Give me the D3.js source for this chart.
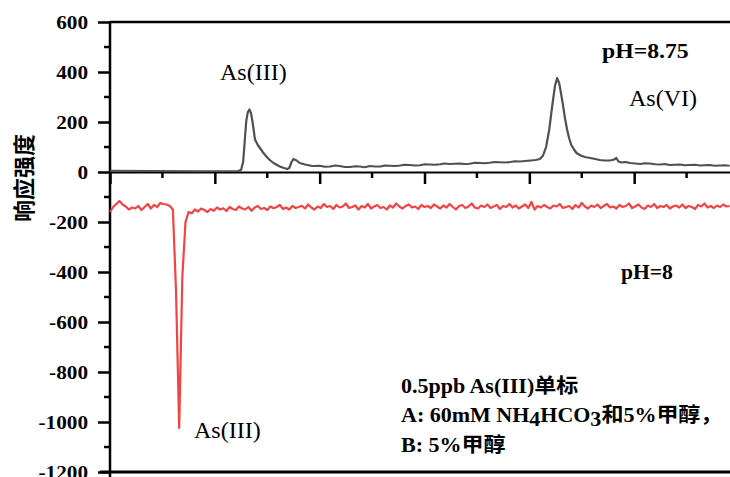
<!DOCTYPE html>
<html>
<head>
<meta charset="utf-8">
<script src="https://cdn.jsdelivr.net/npm/d3@7"></script>
<style>
  body { margin: 0; background: #fff; }
  svg { display: block; }
</style>
</head>
<body>
<svg width="730" height="477"></svg>
<script>
// y axis ticks
var yMajorTicks = [600, 400, 200, 0, -200, -400, -600, -800, -1000, -1200];
var yMinorTicks = [500, 300, 100, -100, -300, -500, -700, -900, -1100];
// x ticks on the zero line (time, min)
var xMajorTicks = [0, 1, 2, 3, 4, 5, 6];
var xMinorTicks = [0.5, 1.5, 2.5, 3.5, 4.5, 5.5];

// pH=8.75 trace: [time, response]
var trace875 = [
    [0.00, 5], [0.38, 4], [0.86, 3], [1.22, 4], [1.25, 8], [1.27, 40], [1.29, 150], [1.30, 205],
    [1.315, 240], [1.33, 250], [1.345, 235], [1.36, 200], [1.383, 130], [1.41, 108], [1.43, 96],
    [1.46, 78], [1.50, 58], [1.53, 46], [1.56, 36], [1.62, 22], [1.66, 16], [1.69, 12], [1.71, 16],
    [1.73, 38], [1.75, 52], [1.78, 46], [1.81, 36], [1.86, 30], [1.93, 24], [2.00, 25], [2.05, 21],
    [2.10, 22], [2.15, 26], [2.19, 24], [2.24, 20], [2.29, 20], [2.34, 23], [2.38, 22], [2.43, 19],
    [2.48, 24], [2.53, 22], [2.58, 22], [2.62, 26], [2.67, 25], [2.72, 24], [2.77, 26], [2.81, 29],
    [2.86, 28], [2.91, 26], [2.96, 27], [3.00, 31], [3.05, 30], [3.10, 29], [3.15, 31], [3.19, 34],
    [3.24, 32], [3.29, 33], [3.34, 34], [3.38, 32], [3.43, 33], [3.48, 37], [3.53, 36], [3.58, 35],
    [3.62, 37], [3.67, 40], [3.72, 39], [3.77, 38], [3.82, 40], [3.86, 43], [3.91, 42], [3.96, 44],
    [4.01, 46], [4.06, 48], [4.10, 52], [4.13, 65], [4.16, 100], [4.19, 170], [4.22, 270],
    [4.245, 345], [4.265, 376], [4.285, 355], [4.30, 320], [4.32, 270], [4.34, 215], [4.36, 170],
    [4.38, 135], [4.40, 108], [4.43, 88], [4.45, 76], [4.49, 66], [4.53, 60], [4.58, 56], [4.63, 52],
    [4.67, 48], [4.72, 46], [4.77, 46], [4.81, 50], [4.83, 56], [4.85, 42], [4.88, 38], [4.92, 40],
    [4.96, 36], [5.01, 34], [5.06, 32], [5.10, 35], [5.15, 34], [5.20, 31], [5.25, 30], [5.29, 32],
    [5.34, 28], [5.39, 29], [5.44, 30], [5.48, 27], [5.53, 28], [5.58, 29], [5.63, 26], [5.67, 27],
    [5.72, 28], [5.77, 25], [5.82, 26], [5.86, 27], [5.91, 25]
];

// pH=8 trace: one value every 0.03 min starting at 0
var trace8Step = 0.03;
var trace8 = [
    -160, -140, -128, -116, -130, -138, -150, -142, -146, -136, -152, -140, -128, -146, -132, -140,
    -124, -128, -130, -136, -150,
    -480, -1024, -420, -200, -160,
    -165, -150, -158, -146, -152, -160, -148, -155, -142, -150, -145, -156, -140, -148, -152,
    -138, -146, -150, -140, -155, -142, -136, -148, -144, -152, -138, -145, -140, -132, -148, -142, -150, -136, -144, -140,
    -135, -146, -130, -142, -150, -138, -144, -128, -140, -136, -148, -132, -142, -138, -126, -144, -140, -134, -150, -136,
    -142, -128, -146, -138, -132, -144, -140, -150, -134, -142, -126, -138, -146, -136, -130, -142, -138, -148, -132, -140,
    -136, -144, -130, -138, -146, -134, -142, -128, -140, -150, -136, -132, -144, -138, -126, -142, -146, -134, -140, -130,
    -144, -138, -132, -148, -136, -140, -128, -142, -134, -146, -138, -130, -144, -120, -150, -136, -142, -132, -140, -146,
    -134, -138, -128, -144, -140, -136, -148, -132, -142, -124, -138, -146, -134, -140, -130, -144, -136, -128, -142, -138,
    -146, -132, -140, -136, -126, -144, -138, -130, -142, -148, -134, -140, -128, -144, -136, -140, -132, -146, -138, -134,
    -142, -130, -144, -136, -140, -148, -132, -138, -126, -142, -136, -144, -134, -140, -130, -138, -136
];

var serif = "'Liberation Serif', 'Times New Roman', serif";
var cjk = "'Noto Sans CJK SC', sans-serif";

var svg = d3.select("svg");
var x = d3.scaleLinear().domain([0, 6]).range([110, 739]);
var y = d3.scaleLinear().domain([-1200, 600]).range([472, 22]);

// frame: top and bottom borders
svg.append("line")
    .attr("x1", 110).attr("x2", 730)
    .attr("y1", y(600)).attr("y2", y(600))
    .attr("stroke", "#000").attr("stroke-width", 2.5);
svg.append("line")
    .attr("x1", 100).attr("x2", 730)
    .attr("y1", y(-1200)).attr("y2", y(-1200))
    .attr("stroke", "#000").attr("stroke-width", 3);

// left axis
var yAxis = svg.append("g")
    .attr("transform", "translate(110,0)")
    .call(d3.axisLeft(y).tickValues(yMajorTicks).tickSize(12).tickFormat(d3.format("d")));
yAxis.select(".domain").remove();
yAxis.selectAll(".tick line").attr("stroke-width", 2.5);
yAxis.selectAll(".tick text")
    .attr("x", 0)
    .attr("dy", "0.34em")
    .attr("transform", "translate(-22,0) scale(1.18,1)")
    .style("font-family", serif)
    .style("font-weight", "bold")
    .style("font-size", "18px")
    .attr("fill", "#000")
    .text(function (d) { return d; });
yAxis.selectAll(".minor")
    .data(yMinorTicks)
    .enter().append("line")
    .attr("x1", -6).attr("x2", 0)
    .attr("y1", function (d) { return y(d); })
    .attr("y2", function (d) { return y(d); })
    .attr("stroke", "#000").attr("stroke-width", 2.5);
svg.append("line")
    .attr("x1", 110).attr("x2", 110)
    .attr("y1", 21).attr("y2", 477)
    .attr("stroke", "#000").attr("stroke-width", 2.5);

// zero line with time ticks
var zeroAxis = svg.append("g")
    .attr("transform", "translate(0," + y(0) + ")")
    .call(d3.axisBottom(x).tickValues(xMajorTicks).tickSize(12).tickSizeOuter(0).tickFormat(""));
zeroAxis.select(".domain").attr("stroke-width", 2);
zeroAxis.selectAll(".tick line").attr("stroke-width", 2.5);
zeroAxis.selectAll(".minor")
    .data(xMinorTicks)
    .enter().append("line")
    .attr("x1", function (d) { return x(d); })
    .attr("x2", function (d) { return x(d); })
    .attr("y1", 0).attr("y2", 6)
    .attr("stroke", "#000").attr("stroke-width", 2.5);

// traces
var line = d3.line()
    .x(function (d) { return x(d[0]); })
    .y(function (d) { return y(d[1]); });

svg.append("path")
    .datum(trace875)
    .attr("d", line)
    .attr("fill", "none")
    .attr("stroke", "#505050")
    .attr("stroke-width", 2.2)
    .attr("stroke-linejoin", "round");

svg.append("path")
    .datum(trace8.map(function (v, i) { return [i * trace8Step, v]; }))
    .attr("d", line)
    .attr("fill", "none")
    .attr("stroke", "#f24444")
    .attr("stroke-width", 2.2)
    .attr("stroke-linejoin", "round");

// labels
function label(txt, px, py, size, weight, sx) {
    return svg.append("text")
        .attr("transform", "translate(" + px + "," + py + ") scale(" + sx + ",1)")
        .style("font-family", serif)
        .style("font-size", size + "px")
        .style("font-weight", weight)
        .attr("fill", "#000")
        .text(txt);
}
label("As(III)", 220, 80, 24, "normal", 1);
label("As(VI)", 629, 106, 24, "normal", 1);
label("As(III)", 194, 438, 24, "normal", 1);
label("pH=8.75", 602, 58, 22, "bold", 1.08);
label("pH=8", 621, 279, 20, "bold", 1.08);

svg.append("text")
    .attr("transform", "translate(32,178) rotate(-90)")
    .attr("text-anchor", "middle")
    .style("font-family", cjk)
    .style("font-size", "22px")
    .style("font-weight", "bold")
    .text("响应强度");

// annotation block
var note = svg.append("g").attr("transform", "translate(401,0) scale(1.1,1)");
var l1 = note.append("text").attr("y", 393)
    .style("font-family", serif).style("font-size", "20px").style("font-weight", "bold");
l1.append("tspan").text("0.5ppb As(III)");
l1.append("tspan").style("font-family", cjk).style("font-size", "20px").text("单标");

var l2 = note.append("text").attr("y", 422)
    .style("font-family", serif).style("font-size", "20px").style("font-weight", "bold");
l2.append("tspan").text("A: 60mM NH");
l2.append("tspan").attr("dy", 4).text("4");
l2.append("tspan").attr("dy", -4).text("HCO");
l2.append("tspan").attr("dy", 4).text("3");
l2.append("tspan").attr("dy", -4).style("font-family", cjk).style("font-size", "20px").text("和");
l2.append("tspan").text("5%");
l2.append("tspan").style("font-family", cjk).style("font-size", "20px").text("甲醇，");

var l3 = note.append("text").attr("y", 452)
    .style("font-family", serif).style("font-size", "20px").style("font-weight", "bold");
l3.append("tspan").text("B: 5%");
l3.append("tspan").style("font-family", cjk).style("font-size", "20px").text("甲醇");
</script>
</body>
</html>
